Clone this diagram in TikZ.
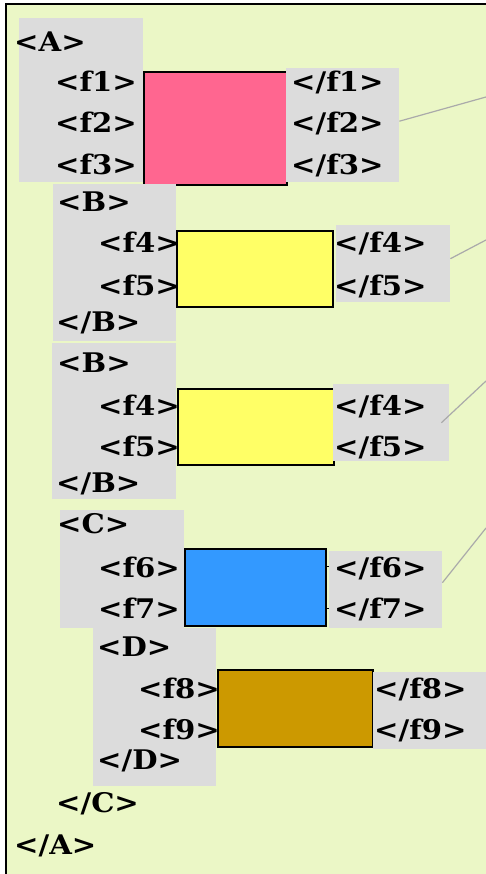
\documentclass[tikz,border=0pt]{standalone}
\usepackage{fontspec}
\setmainfont{DejaVu Serif}[FakeStretch=1.08]
\usetikzlibrary{calc}
\definecolor{sheet}{HTML}{EBF7C6}
\definecolor{panelgray}{HTML}{DCDCDC}
\definecolor{linkgray}{HTML}{AAAAAA}
\definecolor{fpink}{HTML}{FF6690}
\definecolor{fyellow}{HTML}{FFFF66}
\definecolor{fblue}{HTML}{3399FF}
\definecolor{fbrown}{HTML}{CC9900}
\begin{document}
\begin{tikzpicture}[x=1pt,y=-1pt,
  tag/.style={font=\fontsize{27}{27}\selectfont\bfseries, anchor=base west, inner sep=0pt},
  panel/.style={fill=panelgray, draw=none, anchor=north west, inner sep=0pt},
  field/.style={draw=black, line width=1.6pt, anchor=north west, inner sep=0pt},
  link/.style={draw=linkgray, line width=1.2pt},
  tick/.style={draw=black, line width=1pt}]
\useasboundingbox (0,0) rectangle (486,874);

% sheet with its frame
\fill[sheet] (6,4) rectangle (486,874);
\draw[line width=2pt] (486,4) -- (6,4) -- (6,874);

% block A
\node[panel, minimum width=124pt, minimum height=164pt] (boxA) at (19,18) {};
\node[field, fill=fpink, minimum width=143pt, minimum height=113pt] (fA) at (143,71) {};
\node[panel, minimum width=113pt, minimum height=114pt] (rA) at (286,68) {};

% first block B
\node[panel, minimum width=123pt, minimum height=157pt] (boxB1) at (53,184) {};
\node[field, fill=fyellow, minimum width=156pt, minimum height=76pt] (fB1) at (176,230) {};
\node[panel, minimum width=114pt, minimum height=77pt] (rB1) at (336,225) {};

% second block B
\node[panel, minimum width=124pt, minimum height=156pt] (boxB2) at (52,343) {};
\node[field, fill=fyellow, minimum width=156pt, minimum height=76pt] (fB2) at (177,388) {};
\node[panel, minimum width=116pt, minimum height=77pt] (rB2) at (333,384) {};

% block C
\node[panel, minimum width=124pt, minimum height=118pt] (boxC) at (60,510) {};
\node[field, fill=fblue, minimum width=141pt, minimum height=77pt] (fC) at (184,548) {};
\node[panel, minimum width=113pt, minimum height=77pt] (rC) at (329,551) {};
\draw[tick] (fC.east |- 0,566) -- (rC.west |- 0,566);
\draw[tick] (fC.east |- 0,608) -- (rC.west |- 0,608);

% block D
\node[panel, minimum width=123pt, minimum height=158pt] (boxD) at (93,628) {};
\node[field, fill=fbrown, minimum width=155pt, minimum height=77pt] (fD) at (217,669) {};
\node[panel, minimum width=113pt, minimum height=77pt] (rD) at (373,672) {};

% tags
\node[tag] (tA) at (14,52) {<A>};
\node[tag] (tf1) at (55,92) {<f1>};
\node[tag] (tf2) at (55,133) {<f2>};
\node[tag] (tf3) at (55,175) {<f3>};
\node[tag] (cf1) at (291,92) {</f1>};
\node[tag] (cf2) at (291,133) {</f2>};
\node[tag] (cf3) at (291,175) {</f3>};

\node[tag] (tB1) at (57,212) {<B>};
\node[tag] (tf4a) at (98,253) {<f4>};
\node[tag] (tf5a) at (98,295) {<f5>};
\node[tag] (cB1) at (56,331) {</B>};
\node[tag] (cf4a) at (334,253) {</f4>};
\node[tag] (cf5a) at (334,295) {</f5>};

\node[tag] (tB2) at (57,372) {<B>};
\node[tag] (tf4b) at (98,415) {<f4>};
\node[tag] (tf5b) at (98,456) {<f5>};
\node[tag] (cB2) at (56,492) {</B>};
\node[tag] (cf4b) at (334,415) {</f4>};
\node[tag] (cf5b) at (334,456) {</f5>};

\node[tag] (tC) at (57,533) {<C>};
\node[tag] (tf6) at (98,577) {<f6>};
\node[tag] (tf7) at (98,618) {<f7>};
\node[tag] (cf6) at (334,577) {</f6>};
\node[tag] (cf7) at (334,618) {</f7>};

\node[tag] (tD) at (97,656) {<D>};
\node[tag] (tf8) at (138,698) {<f8>};
\node[tag] (tf9) at (138,739) {<f9>};
\node[tag] (cD) at (97,769) {</D>};
\node[tag] (cf8) at (374,698) {</f8>};
\node[tag] (cf9) at (374,739) {</f9>};

\node[tag] (cC) at (56,812) {</C>};
\node[tag] (cA) at (14,854) {</A>};

% leader lines running off to the right
\coordinate (eA) at (486,97);
\coordinate (eB1) at (486,240);
\coordinate (eB2) at (486,381);
\coordinate (eC) at (486,528);
\draw[link] ($(rA.east)+(0,-4)$) -- (eA);
\draw[link] ($(rB1.east)+(0,-5)$) -- (eB1);
\draw[link] ($(rB2.east)+(-8,0)$) -- (eB2);
\draw[link] ($(rC.east)+(0,-7)$) -- (eC);
\end{tikzpicture}
\end{document}
